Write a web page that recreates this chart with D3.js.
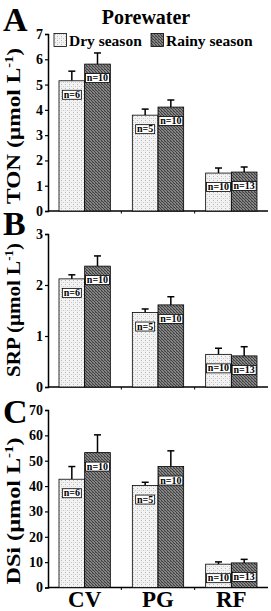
<!DOCTYPE html>
<html><head><meta charset="utf-8">
<script src="https://cdn.jsdelivr.net/npm/d3@7"></script>
<style>html,body{margin:0;padding:0;background:#fff;}svg{display:block;}</style>
</head><body>
<script>
const categories = ["CV", "PG", "RF"];
const seasons = ["Dry season", "Rainy season"];
const tonDry = [5.15, 3.79, 1.50];
const tonDryErr = [0.38, 0.24, 0.20];
const tonRainy = [5.81, 4.11, 1.54];
const tonRainyErr = [0.44, 0.28, 0.20];
const srpDry = [2.12, 1.46, 0.64];
const srpDryErr = [0.08, 0.07, 0.12];
const srpRainy = [2.37, 1.61, 0.61];
const srpRainyErr = [0.20, 0.16, 0.18];
const dsiDry = [42.7, 40.2, 9.2];
const dsiDryErr = [5.0, 1.3, 0.9];
const dsiRainy = [53.2, 47.7, 9.7];
const dsiRainyErr = [7.0, 6.2, 1.4];
const nDry = [6, 5, 10];
const nRainy = [10, 10, 13];
const tonTicks = [0, 1, 2, 3, 4, 5, 6, 7];
const srpTicks = [0, 1, 2, 3];
const dsiTicks = [0, 10, 20, 30, 40, 50, 60, 70];

const W = 271, H = 611;
const FONT = "'Liberation Serif','Times New Roman',serif";
const svg = d3.select("body").append("svg").attr("width", W).attr("height", H);

const defs = svg.append("defs");
const pd = defs.append("pattern").attr("id", "dry").attr("patternUnits", "userSpaceOnUse").attr("width", 4).attr("height", 4);
pd.append("rect").attr("width", 4).attr("height", 4).attr("fill", "#f3f3f3");
pd.append("rect").attr("x", 1).attr("y", 0).attr("width", 1).attr("height", 1).attr("fill", "#b8b8b8");
pd.append("rect").attr("x", 3).attr("y", 2).attr("width", 1).attr("height", 1).attr("fill", "#c8c8c8");
pd.append("rect").attr("x", 1).attr("y", 2).attr("width", 1).attr("height", 1).attr("fill", "#d8d8d8");
const pr = defs.append("pattern").attr("id", "rainy").attr("patternUnits", "userSpaceOnUse").attr("width", 3).attr("height", 3);
pr.append("rect").attr("width", 3).attr("height", 3).attr("fill", "#858585");
pr.append("rect").attr("x", 0).attr("y", 0).attr("width", 1).attr("height", 1).attr("fill", "#404040");
pr.append("rect").attr("x", 1).attr("y", 1).attr("width", 1).attr("height", 1).attr("fill", "#404040");
pr.append("rect").attr("x", 2).attr("y", 2).attr("width", 1).attr("height", 1).attr("fill", "#404040");
pr.append("rect").attr("x", 2).attr("y", 0).attr("width", 1).attr("height", 1).attr("fill", "#606060");

const x0 = d3.scaleBand().domain(categories).range([48, 268]).paddingInner(0.3).paddingOuter(0.15);
const x1 = d3.scaleBand().domain(seasons).range([0, x0.bandwidth()]);
const fills = {"Dry season": "url(#dry)", "Rainy season": "url(#rainy)"};

const panels = [
  {letter: "A", label: "TON", dry: tonDry, dryErr: tonDryErr, rainy: tonRainy, rainyErr: tonRainyErr, ticks: tonTicks, y0: 211, y1: 34, labelY: 126, labelLen: 156, letterY: 31},
  {letter: "B", label: "SRP", dry: srpDry, dryErr: srpDryErr, rainy: srpRainy, rainyErr: srpRainyErr, ticks: srpTicks, y0: 387, y1: 234, labelY: 310, labelLen: 134, letterY: 235},
  {letter: "C", label: "DSi", dry: dsiDry, dryErr: dsiDryErr, rainy: dsiRainy, rainyErr: dsiRainyErr, ticks: dsiTicks, y0: 587.5, y1: 410, labelY: 511, labelLen: 147, letterY: 423}
];

panels.forEach(p => {
  const y = d3.scaleLinear().domain([0, d3.max(p.ticks)]).range([p.y0, p.y1]);
  const g = svg.append("g");
  const ya = g.append("g").attr("transform", "translate(48,0)")
    .call(d3.axisLeft(y).tickValues(p.ticks).tickSize(3).tickPadding(2).tickFormat(d3.format("d")));
  ya.select(".domain").attr("stroke", "#000").attr("stroke-width", 1.5);
  ya.selectAll(".tick line").attr("stroke", "#000").attr("stroke-width", 1.2);
  ya.selectAll(".tick text").attr("font-family", FONT).attr("font-weight", "bold").attr("font-size", 14).attr("fill", "#000");
  const xa = g.append("g").attr("transform", `translate(0,${p.y0})`)
    .call(d3.axisBottom(x0).tickSize(0).tickFormat(""));
  xa.select(".domain").attr("stroke", "#000").attr("stroke-width", 1.5).attr("d", "M48,0H268");
  xa.selectAll(".tick").remove();
  const bounds = [categories[1], categories[2]].map(c => x0(c) - x0.step() * x0.paddingInner() / 2);
  g.selectAll(".xb").data(bounds).enter().append("line")
    .attr("x1", d => d).attr("x2", d => d).attr("y1", p.y0).attr("y2", p.y0 + 2.5)
    .attr("stroke", "#000").attr("stroke-width", 1);

  const rows = [];
  categories.forEach((c, i) => {
    rows.push({cat: c, s: seasons[0], v: p.dry[i], e: p.dryErr[i], n: nDry[i]});
    rows.push({cat: c, s: seasons[1], v: p.rainy[i], e: p.rainyErr[i], n: nRainy[i]});
  });
  rows.forEach(r => {
    const cx = x0(r.cat) + x1(r.s) + x1.bandwidth() / 2;
    g.append("line").attr("x1", cx).attr("x2", cx).attr("y1", y(r.v)).attr("y2", y(r.v + r.e))
      .attr("stroke", "#000").attr("stroke-width", 1.5);
    g.append("line").attr("x1", cx - 3.5).attr("x2", cx + 3.5).attr("y1", y(r.v + r.e)).attr("y2", y(r.v + r.e))
      .attr("stroke", "#000").attr("stroke-width", 1.5);
  });
  g.selectAll(".bar").data(rows).enter().append("rect")
    .attr("x", d => x0(d.cat) + x1(d.s))
    .attr("y", d => y(d.v))
    .attr("width", x1.bandwidth())
    .attr("height", d => p.y0 - y(d.v))
    .attr("fill", d => fills[d.s])
    .attr("stroke", "#000").attr("stroke-width", 0.8);
  rows.forEach(r => {
    const cx = x0(r.cat) + x1(r.s) + x1.bandwidth() / 2;
    const txt = "n=" + r.n;
    const bw = r.n >= 10 ? 24 : 19;
    const top = y(r.v) + 9.5;
    g.append("rect").attr("x", cx - bw / 2).attr("y", top).attr("width", bw).attr("height", 9)
      .attr("fill", "#fff").attr("stroke", "#000").attr("stroke-width", 0.8);
    g.append("text").attr("x", cx).attr("y", top + 7.6).attr("text-anchor", "middle")
      .attr("font-family", FONT).attr("font-weight", "bold").attr("font-size", 10).attr("fill", "#000").text(txt);
  });
  const yl = g.append("text").attr("text-anchor", "middle")
    .attr("font-family", FONT).attr("font-weight", "bold").attr("font-size", 19.5).attr("fill", "#000");
  yl.append("tspan").text(p.label + " (µmol L");
  yl.append("tspan").attr("dy", -7).attr("font-size", 12).text("-1");
  yl.append("tspan").attr("dy", 7).text(")");
  const bb = yl.node().getBBox();
  const sx = p.labelLen / bb.width;
  const cxText = bb.x + bb.width / 2;
  yl.attr("transform", `translate(19.5,${p.labelY}) rotate(-90) scale(${sx},1) translate(${-cxText},0)`);
  g.append("text").attr("x", 3).attr("y", p.letterY).attr("font-family", FONT).attr("font-weight", "bold")
    .attr("font-size", 34).attr("fill", "#000").text(p.letter);
});

svg.selectAll(".xl").data(categories).enter().append("text")
  .attr("x", d => x0(d) + x0.bandwidth() / 2).attr("y", 606.5).attr("text-anchor", "middle")
  .attr("font-family", FONT).attr("font-weight", "bold").attr("font-size", 23).attr("fill", "#000").text(d => d);

svg.append("text").attr("x", 146).attr("y", 24).attr("text-anchor", "middle")
  .attr("font-family", FONT).attr("font-weight", "bold").attr("font-size", 20).attr("fill", "#000").text("Porewater");

const legX = [54, 151];
seasons.forEach((s, i) => {
  svg.append("rect").attr("x", legX[i]).attr("y", 33.5).attr("width", 12.5).attr("height", 13)
    .attr("fill", fills[s]).attr("stroke", "#000").attr("stroke-width", 0.8);
  svg.append("text").attr("x", legX[i] + 15).attr("y", 46).attr("font-family", FONT).attr("font-weight", "bold")
    .attr("font-size", 15.5).attr("fill", "#000").text(s);
});
</script>
</body></html>
